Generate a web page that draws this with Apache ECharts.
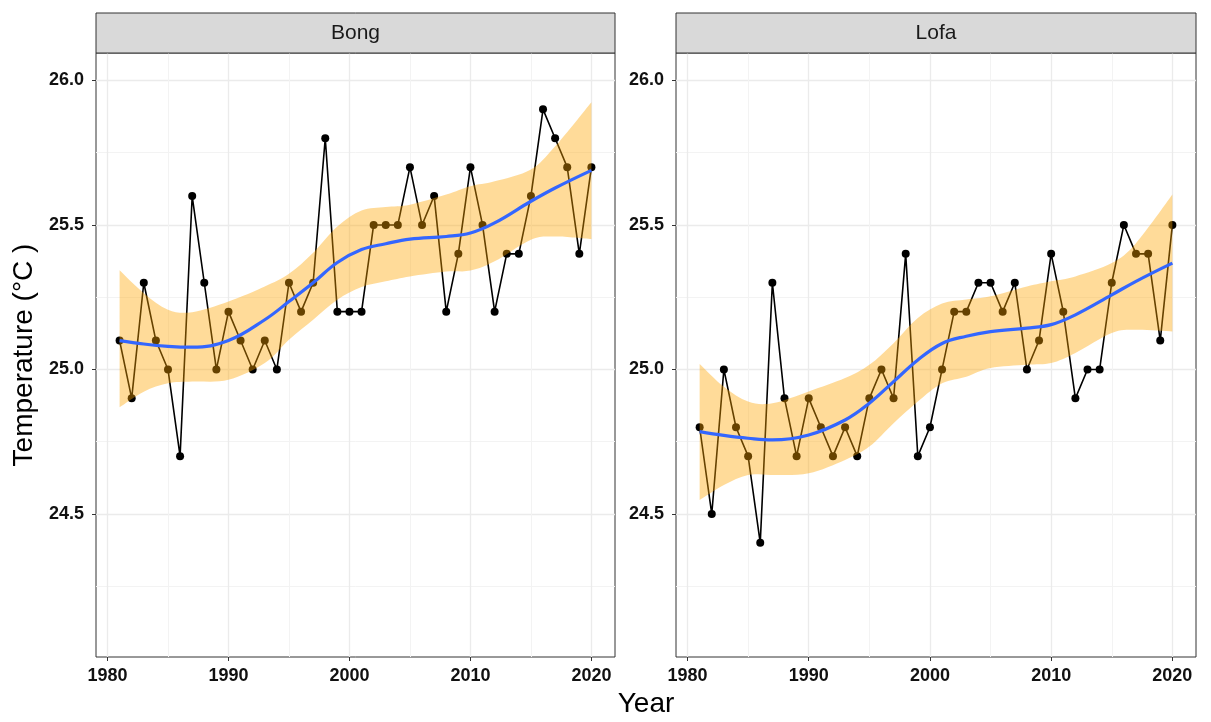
<!DOCTYPE html>
<html>
<head>
<meta charset="utf-8">
<script src="https://cdn.jsdelivr.net/npm/echarts@6/dist/echarts.min.js"></script>
<style>
  html, body { margin: 0; padding: 0; background: #ffffff; }
  #chart { width: 1211px; height: 722px; }
</style>
</head>
<body>
<div id="chart"></div>
<script>
// Annual mean temperature (°C) by county, 1981–2020
const years = [1981,1982,1983,1984,1985,1986,1987,1988,1989,1990,
               1991,1992,1993,1994,1995,1996,1997,1998,1999,2000,
               2001,2002,2003,2004,2005,2006,2007,2008,2009,2010,
               2011,2012,2013,2014,2015,2016,2017,2018,2019,2020];

const bongTemp = [25.1,24.9,25.3,25.1,25.0,24.7,25.6,25.3,25.0,25.2,
                  25.1,25.0,25.1,25.0,25.3,25.2,25.3,25.8,25.2,25.2,
                  25.2,25.5,25.5,25.5,25.7,25.5,25.6,25.2,25.4,25.7,
                  25.5,25.2,25.4,25.4,25.6,25.9,25.8,25.7,25.4,25.7];

const lofaTemp = [24.8,24.5,25.0,24.8,24.7,24.4,25.3,24.9,24.7,24.9,
                  24.8,24.7,24.8,24.7,24.9,25.0,24.9,25.4,24.7,24.8,
                  25.0,25.2,25.2,25.3,25.3,25.2,25.3,25.0,25.1,25.4,
                  25.2,24.9,25.0,25.0,25.3,25.5,25.4,25.4,25.1,25.5];

// Loess trend with its confidence band, sampled at these years
const fitYears  = [1981,1983,1985,1987,1990,1993,1995,1997,1999,2001,2003,2005,2008,2010,2012,2015,2017,2020];

const bongFit   = [25.100,25.088,25.080,25.077,25.100,25.172,25.235,25.300,25.370,25.415,25.435,25.451,25.460,25.472,25.507,25.582,25.628,25.689];
const bongLower = [24.869,24.923,24.952,24.958,24.964,25.022,25.103,25.172,25.241,25.285,25.305,25.322,25.339,25.342,25.374,25.449,25.460,25.451];
const bongUpper = [25.343,25.264,25.207,25.198,25.235,25.287,25.331,25.404,25.495,25.550,25.562,25.570,25.605,25.634,25.651,25.692,25.772,25.925];

const lofaFit   = [24.785,24.772,24.762,24.756,24.773,24.825,24.883,24.958,25.033,25.090,25.115,25.131,25.143,25.155,25.189,25.258,25.305,25.368];
const lofaLower = [24.548,24.600,24.635,24.635,24.641,24.687,24.733,24.814,24.889,24.952,24.975,25.005,25.016,25.022,25.057,25.126,25.137,25.131];
const lofaUpper = [25.019,24.940,24.889,24.883,24.924,24.970,25.016,25.091,25.178,25.228,25.242,25.253,25.287,25.305,25.322,25.368,25.437,25.605];

const xTicks = [1980, 1990, 2000, 2010, 2020];
const yTicks = [24.5, 25.0, 25.5, 26.0];

const panels = [
  { name: 'Bong', temp: bongTemp, fit: bongFit, lower: bongLower, upper: bongUpper },
  { name: 'Lofa', temp: lofaTemp, fit: lofaFit, lower: lofaLower, upper: lofaUpper }
];

const FONT = '"Liberation Sans", Arial, Helvetica, sans-serif';
const panelBox = [
  { left: 96,  width: 519 },
  { left: 676, width: 520 }
];
const PANEL_TOP = 53, PANEL_H = 604, STRIP_TOP = 13, STRIP_H = 40;

const zip = (xs, ys) => xs.map((x, i) => [x, ys[i]]);

// Cubic Bézier segments (Catmull-Rom style) through a run of pixel points
function curveThrough(pts, startCmd) {
  let d = startCmd + pts[0][0] + ' ' + pts[0][1];
  for (let i = 0; i < pts.length - 1; i++) {
    const p0 = pts[Math.max(i - 1, 0)], p1 = pts[i], p2 = pts[i + 1], p3 = pts[Math.min(i + 2, pts.length - 1)];
    const c1x = p1[0] + (p2[0] - p0[0]) / 6, c1y = p1[1] + (p2[1] - p0[1]) / 6;
    const c2x = p2[0] - (p3[0] - p1[0]) / 6, c2y = p2[1] - (p3[1] - p1[1]) / 6;
    d += ' C' + c1x + ' ' + c1y + ' ' + c2x + ' ' + c2y + ' ' + p2[0] + ' ' + p2[1];
  }
  return d;
}

function bandRenderer(lower, upper) {
  return function (params, api) {
    const up = fitYears.map((yr, k) => api.coord([yr, upper[k]]));
    const lo = fitYears.map((yr, k) => api.coord([yr, lower[k]])).reverse();
    const d = curveThrough(up, 'M') + ' ' + curveThrough(lo, 'L').replace(/^L/, 'L') + ' Z';
    return {
      type: 'path',
      shape: { pathData: d },
      style: { fill: 'rgba(255,165,0,0.4)', stroke: null }
    };
  };
}

const grids = [], xAxes = [], yAxes = [], series = [], graphics = [];

panels.forEach((p, i) => {
  const box = panelBox[i];
  grids.push({
    left: box.left, top: PANEL_TOP, width: box.width, height: PANEL_H,
    show: true, backgroundColor: '#ffffff', borderColor: '#333333', borderWidth: 1,
    containLabel: false
  });

  xAxes.push({
    type: 'value', gridIndex: i,
    min: 1979.05, max: 2021.95, splitNumber: 4,
    axisLine: { show: false },
    axisTick: { show: true, length: 4, lineStyle: { color: '#333333', width: 1 }, customValues: xTicks },
    axisLabel: {
      customValues: xTicks, margin: 10,
      color: '#111111', fontFamily: FONT, fontWeight: 'bold', fontSize: 18,
      formatter: v => String(v)
    },
    splitLine: { show: true, lineStyle: { color: '#EBEBEB', width: 1.3 } },
    minorTick: { show: false, splitNumber: 2 },
    minorSplitLine: { show: true, lineStyle: { color: '#F3F3F3', width: 1 } }
  });

  yAxes.push({
    type: 'value', gridIndex: i,
    min: 24.005, max: 26.095, splitNumber: 4,
    axisLine: { show: false },
    axisTick: { show: true, length: 4, lineStyle: { color: '#333333', width: 1 }, customValues: yTicks },
    axisLabel: {
      customValues: yTicks, margin: 12,
      color: '#111111', fontFamily: FONT, fontWeight: 'bold', fontSize: 18,
      formatter: v => v.toFixed(1)
    },
    splitLine: { show: true, lineStyle: { color: '#EBEBEB', width: 1.3 } },
    minorTick: { show: false, splitNumber: 2 },
    minorSplitLine: { show: true, lineStyle: { color: '#F3F3F3', width: 1 } }
  });

  // observed series: black line with points
  series.push({
    type: 'line', name: p.name, xAxisIndex: i, yAxisIndex: i, z: 2,
    data: zip(years, p.temp),
    symbol: 'circle', symbolSize: 8, showSymbol: true,
    itemStyle: { color: '#000000' },
    lineStyle: { color: '#000000', width: 1.6 },
    emphasis: { disabled: true }, silent: true
  });

  // confidence band drawn over the observations
  series.push({
    type: 'custom', xAxisIndex: i, yAxisIndex: i, z: 3,
    data: [[fitYears[0], p.fit[0]]],
    renderItem: bandRenderer(p.lower, p.upper),
    clip: true, silent: true
  });

  // loess trend
  series.push({
    type: 'line', xAxisIndex: i, yAxisIndex: i, z: 4,
    data: zip(fitYears, p.fit),
    smooth: 0.4, symbol: 'none',
    lineStyle: { color: '#3366FF', width: 3.2 }, silent: true
  });

  // facet strip
  graphics.push({
    type: 'rect', z: 10,
    shape: { x: box.left, y: STRIP_TOP, width: box.width, height: STRIP_H },
    style: { fill: '#D9D9D9', stroke: '#333333', lineWidth: 1 }
  });
  graphics.push({
    type: 'text', z: 11,
    x: box.left + box.width / 2, y: STRIP_TOP + STRIP_H / 2,
    style: { text: p.name, fontFamily: FONT, fontSize: 21, fill: '#1A1A1A', align: 'center', verticalAlign: 'middle' }
  });
});

// shared axis titles
graphics.push({
  type: 'text', z: 11, x: 646, y: 704,
  style: { text: 'Year', fontFamily: FONT, fontSize: 28, fill: '#000000', align: 'center', verticalAlign: 'middle' }
});
graphics.push({
  type: 'text', z: 11, x: 24, y: 355, rotation: Math.PI / 2,
  style: { text: 'Temperature (°C )', fontFamily: FONT, fontSize: 28, fill: '#000000', align: 'center', verticalAlign: 'middle' }
});

const chart = echarts.init(document.getElementById('chart'), null, { renderer: 'canvas' });
chart.setOption({
  backgroundColor: '#ffffff',
  animation: false,
  grid: grids,
  xAxis: xAxes,
  yAxis: yAxes,
  series: series,
  graphic: graphics
});
</script>
</body>
</html>
